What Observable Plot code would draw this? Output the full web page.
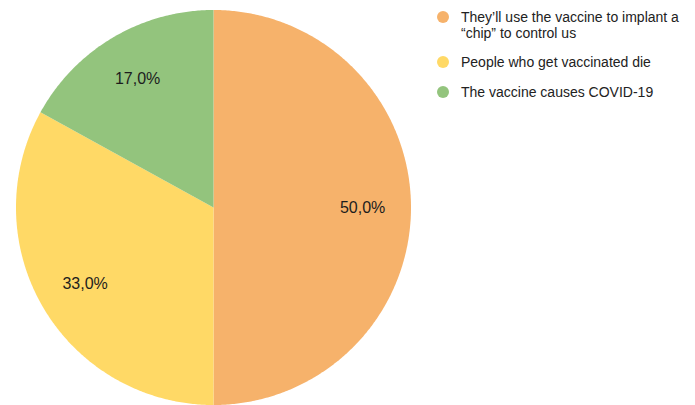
<!DOCTYPE html>
<html>
<head>
<meta charset="utf-8">
<script src="https://cdn.jsdelivr.net/npm/d3@7"></script>
<script src="https://cdn.jsdelivr.net/npm/@observablehq/plot@0.6"></script>
<style>
  html, body { margin: 0; padding: 0; background: #fff; }
  #wrap { position: relative; width: 695px; height: 405px; font-family: "Liberation Sans", Arial, sans-serif; }
  #legend { position: absolute; left: 0; top: 0; }
  .item { position: absolute; left: 437px; display: flex; align-items: flex-start; }
  .sw { width: 12px; height: 12px; border-radius: 50%; margin-top: 2px; flex: none; }
  .lab { margin-left: 12px; width: 228px; font-size: 14px; line-height: 16px; color: #222; }
</style>
</head>
<body>
<div id="wrap"></div>
<script>
const categories = ["They’ll use the vaccine to implant a “chip” to control us", "People who get vaccinated die", "The vaccine causes COVID-19"];
const values = [50, 33, 17];
const valueLabels = ["50,0%", "33,0%", "17,0%"];
const colors = ["#f6b26b", "#ffd966", "#93c47d"];
const legendTops = [9, 54, 84];

const pie = d3.pie().sort(null).value(d => d.value)(categories.map((c, i) => ({cat: c, value: values[i]})));

// slice outline points in unit space (0 angle = 12 o'clock, clockwise)
const pts = [];
for (const s of pie) {
  pts.push({cat: s.data.cat, x: 0, y: 0});
  const n = Math.max(2, Math.ceil((s.endAngle - s.startAngle) / (Math.PI / 360)));
  for (let k = 0; k <= n; k++) {
    const a = s.startAngle + (s.endAngle - s.startAngle) * k / n;
    pts.push({cat: s.data.cat, x: Math.sin(a), y: Math.cos(a)});
  }
}
const lr = 0.755;
const labels = pie.map((s, i) => {
  const a = (s.startAngle + s.endAngle) / 2;
  return {text: valueLabels[i], x: lr * Math.sin(a), y: lr * Math.cos(a)};
});

const chart = Plot.plot({
  width: 695,
  height: 405,
  marginLeft: 15.5,
  marginRight: 284.5,
  marginTop: 9.5,
  marginBottom: 0.5,
  x: {domain: [-1, 1], axis: null},
  y: {domain: [-1, 1], axis: null},
  color: {domain: categories, range: colors},
  style: {fontFamily: "'Liberation Sans', Arial, sans-serif", background: "#fff"},
  marks: [
    Plot.line(pts, {x: "x", y: "y", z: "cat", fill: "cat", stroke: "none", curve: "linear"}),
    Plot.text(labels, {x: "x", y: "y", text: "text", fontSize: 16, fill: "#1d1d1d"})
  ]
});

const wrap = document.getElementById("wrap");
wrap.appendChild(chart);
const legend = document.createElement("div");
legend.id = "legend";
categories.forEach((c, i) => {
  const it = document.createElement("div");
  it.className = "item";
  it.style.top = legendTops[i] + "px";
  const sw = document.createElement("div");
  sw.className = "sw";
  sw.style.background = colors[i];
  const lab = document.createElement("div");
  lab.className = "lab";
  lab.textContent = c;
  it.appendChild(sw);
  it.appendChild(lab);
  legend.appendChild(it);
});
wrap.appendChild(legend);
</script>
</body>
</html>
